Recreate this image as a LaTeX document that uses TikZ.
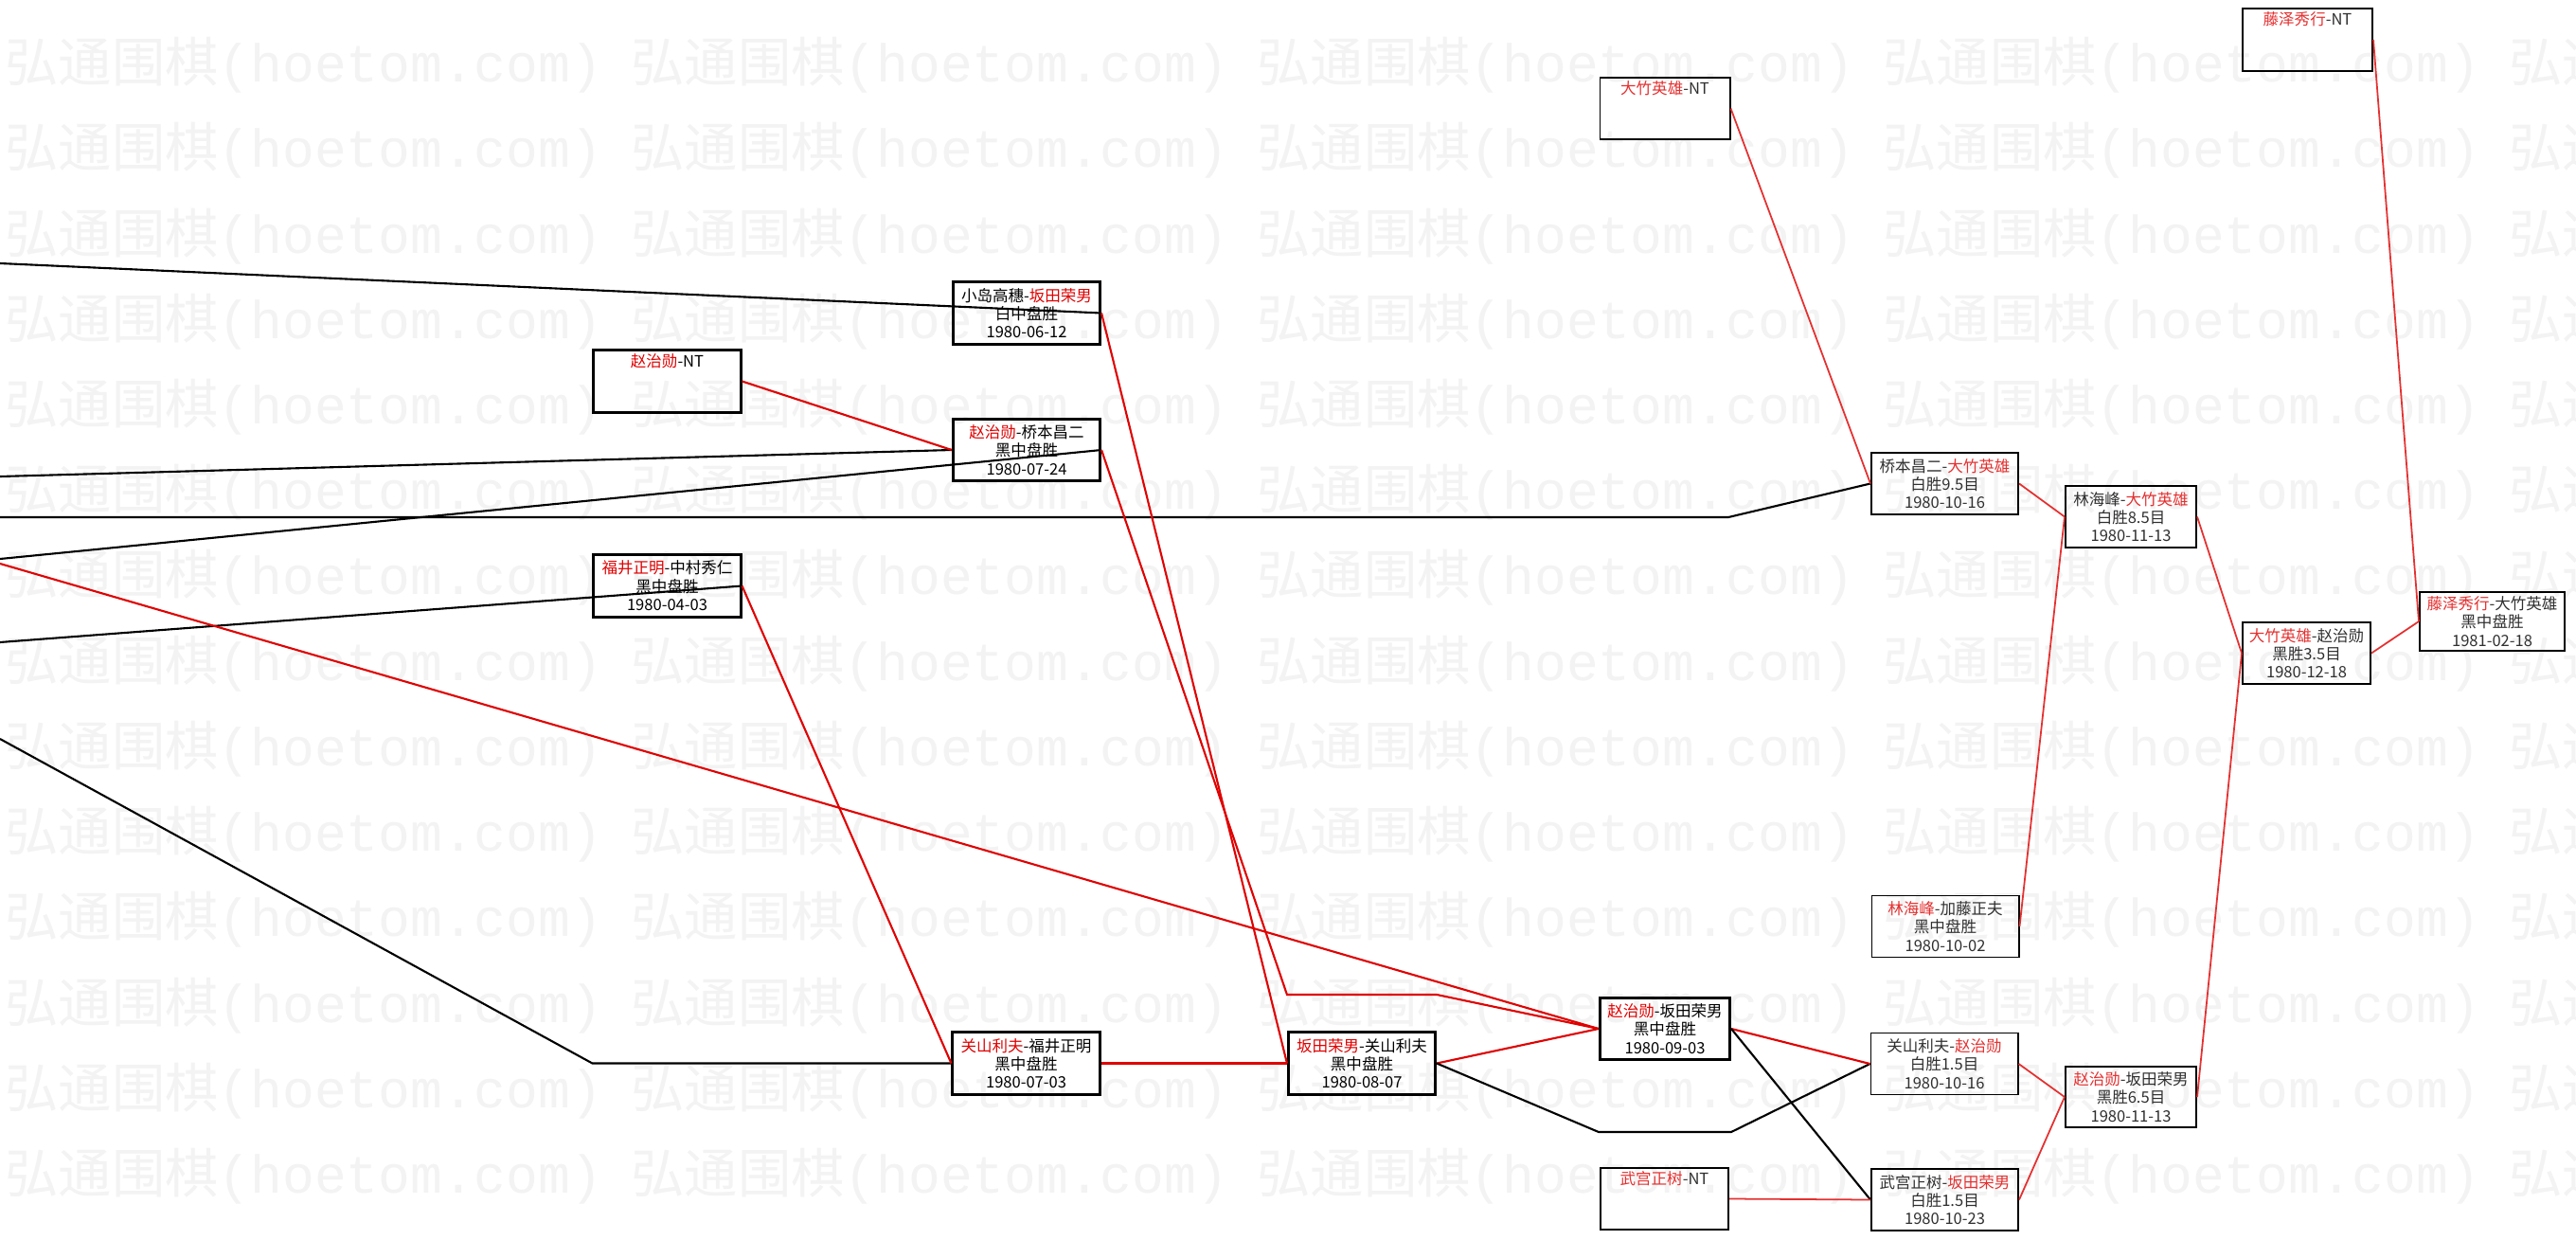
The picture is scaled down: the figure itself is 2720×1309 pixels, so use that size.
\documentclass[tikz,border=0pt]{standalone}
\usepackage{fontspec}
\setmainfont{Noto Sans CJK SC}
\newfontfamily\wmmono{Liberation Mono}
\definecolor{wred}{HTML}{E00000}
\definecolor{rred}{HTML}{E53030}
\definecolor{rtxt}{HTML}{303030}
\definecolor{wmark}{HTML}{F3F3F3}
\newcommand\winr[1]{\textcolor{wred}{#1}}
\newcommand\winl[1]{\textcolor{rred}{#1}}
\tikzset{
  game/.style={draw=black, line width=0.85pt, rectangle, inner sep=0pt, align=center,
    font=\fontsize{4.7pt}{5.5pt}\selectfont, minimum width=1.55cm, minimum height=0.65cm},
  rgame/.style={game, line width=0.55pt, text=rtxt},
  win/.style={line width=0.6pt, draw=wred},
  lose/.style={line width=0.6pt, draw=black},
  rwin/.style={line width=0.5pt, draw=rred},
  wm/.style={text=wmark, font=\fontsize{16pt}{16pt}\selectfont, inner sep=0pt, anchor=west}
}
\begin{document}
\begin{tikzpicture}[x=0.01cm,y=-0.01cm]
\useasboundingbox (0,0) rectangle (2720,1309);
\fill[white] (0,0) rectangle (2720,1309);
\begin{scope}
\clip (0,0) rectangle (2720,1309);
\foreach \r in {0,...,13} {
  \foreach \c in {0,...,4} {
    \node[wm] (wm-\r-\c) at (5+661*\c, 69+90.2*\r) {弘通围棋{\wmmono(hoetom.com)}};
  }
}
\end{scope}
% left boxes
\node[game] (b1) at (1084,330.5) {小岛高穗-\winr{坂田荣男}\\白中盘胜\\1980-06-12};
\node[game] (b2) at (704.5,402.5) {\winr{赵治勋}-NT\\ \strut\\ \strut};
\node[game] (b3) at (1084,475) {\winr{赵治勋}-桥本昌二\\黑中盘胜\\1980-07-24};
\node[game] (b4) at (704.5,618.5) {\winr{福井正明}-中村秀仁\\黑中盘胜\\1980-04-03};
\node[game] (b5) at (1083.5,1122.5) {\winr{关山利夫}-福井正明\\黑中盘胜\\1980-07-03};
\node[game] (b6) at (1438,1122.5) {\winr{坂田荣男}-关山利夫\\黑中盘胜\\1980-08-07};
\node[game, minimum width=1.37cm] (b7) at (1758,1086) {\winr{赵治勋}-坂田荣男\\黑中盘胜\\1980-09-03};
% right boxes
\node[rgame, minimum width=1.37cm] (b8) at (1758,114.5) {\winl{大竹英雄}-NT\\ \strut\\ \strut};
\node[rgame] (b9) at (2053.5,510.5) {桥本昌二-\winl{大竹英雄}\\白胜9.5目\\1980-10-16};
\node[rgame] (b10) at (2054,978) {\winl{林海峰}-加藤正夫\\黑中盘胜\\1980-10-02};
\node[rgame] (b11) at (2053,1123) {关山利夫-\winl{赵治勋}\\白胜1.5目\\1980-10-16};
\node[rgame] (b12) at (2053.5,1266.5) {武宫正树-\winl{坂田荣男}\\白胜1.5目\\1980-10-23};
\node[rgame, minimum width=1.35cm] (b13) at (1757.5,1265.5) {\winl{武宫正树}-NT\\ \strut\\ \strut};
\node[rgame, minimum width=1.38cm] (b14) at (2250,545.5) {林海峰-\winl{大竹英雄}\\白胜8.5目\\1980-11-13};
\node[rgame, minimum width=1.38cm, minimum height=0.64cm] (b15) at (2250,1158) {\winl{赵治勋}-坂田荣男\\黑胜6.5目\\1980-11-13};
\node[rgame, minimum width=1.35cm] (b16) at (2435.5,689.5) {\winl{大竹英雄}-赵治勋\\黑胜3.5目\\1980-12-18};
\node[rgame, minimum width=1.37cm, minimum height=0.66cm] (b17) at (2436.5,42) {\winl{藤泽秀行}-NT\\ \strut\\ \strut};
\node[rgame, minimum width=1.53cm, minimum height=0.62cm] (b18) at (2631.5,656) {\winl{藤泽秀行}-大竹英雄\\黑中盘胜\\1981-02-18};
% free ends at left edge and bends
\coordinate (s1) at (0,278);
\coordinate (s2) at (0,503);
\coordinate (s3) at (0,590);
\coordinate (s4) at (0,546);
\coordinate (s5) at (0,678);
\coordinate (s6) at (0,780);
\coordinate (s7) at (0,595);
\coordinate (k1) at (1825,546);
\coordinate (k2) at (1400,1050);
\coordinate (k3) at (1700,1195);
% connectors
\draw[lose] (s1) -- (b1.east);
\draw[lose] (s2) -- (b3.west);
\draw[lose] (s3) -- (b3.east);
\draw[lose] (s4) -- (k1) -- (b9.west);
\draw[lose] (s5) -- (b4.east);
\draw[lose] (s6) -- (b4.west |- b5.west) -- (b5.west);
\draw[win] (s7) -- (b7.west);
\draw[win] (b2.east) -- (b3.west);
\draw[win] (b4.east) -- (b5.west);
\draw[win] (b5.east) -- (b6.west);
\draw[win] (b1.east) -- (b6.west);
\draw[win] (b3.east) -- (b6.west |- k2) -- (b6.east |- k2) -- (b7.west);
\draw[win] (b6.east) -- (b7.west);
\draw[lose] (b6.east) -- (b7.west |- k3) -- (b7.east |- k3) -- (b11.west);
\draw[win] (b7.east) -- (b11.west);
\draw[lose] (b7.east) -- (b12.west);
\draw[rwin] (b13.east) -- (b12.west);
\draw[rwin] (b8.east) -- (b9.west);
\draw[rwin] (b9.east) -- (b14.west);
\draw[rwin] (b10.east) -- (b14.west);
\draw[rwin] (b11.east) -- (b15.west);
\draw[rwin] (b12.east) -- (b15.west);
\draw[rwin] (b14.east) -- (b16.west);
\draw[rwin] (b15.east) -- (b16.west);
\draw[rwin] (b17.east) -- (b18.west);
\draw[rwin] (b16.east) -- (b18.west);
\end{tikzpicture}
\end{document}
